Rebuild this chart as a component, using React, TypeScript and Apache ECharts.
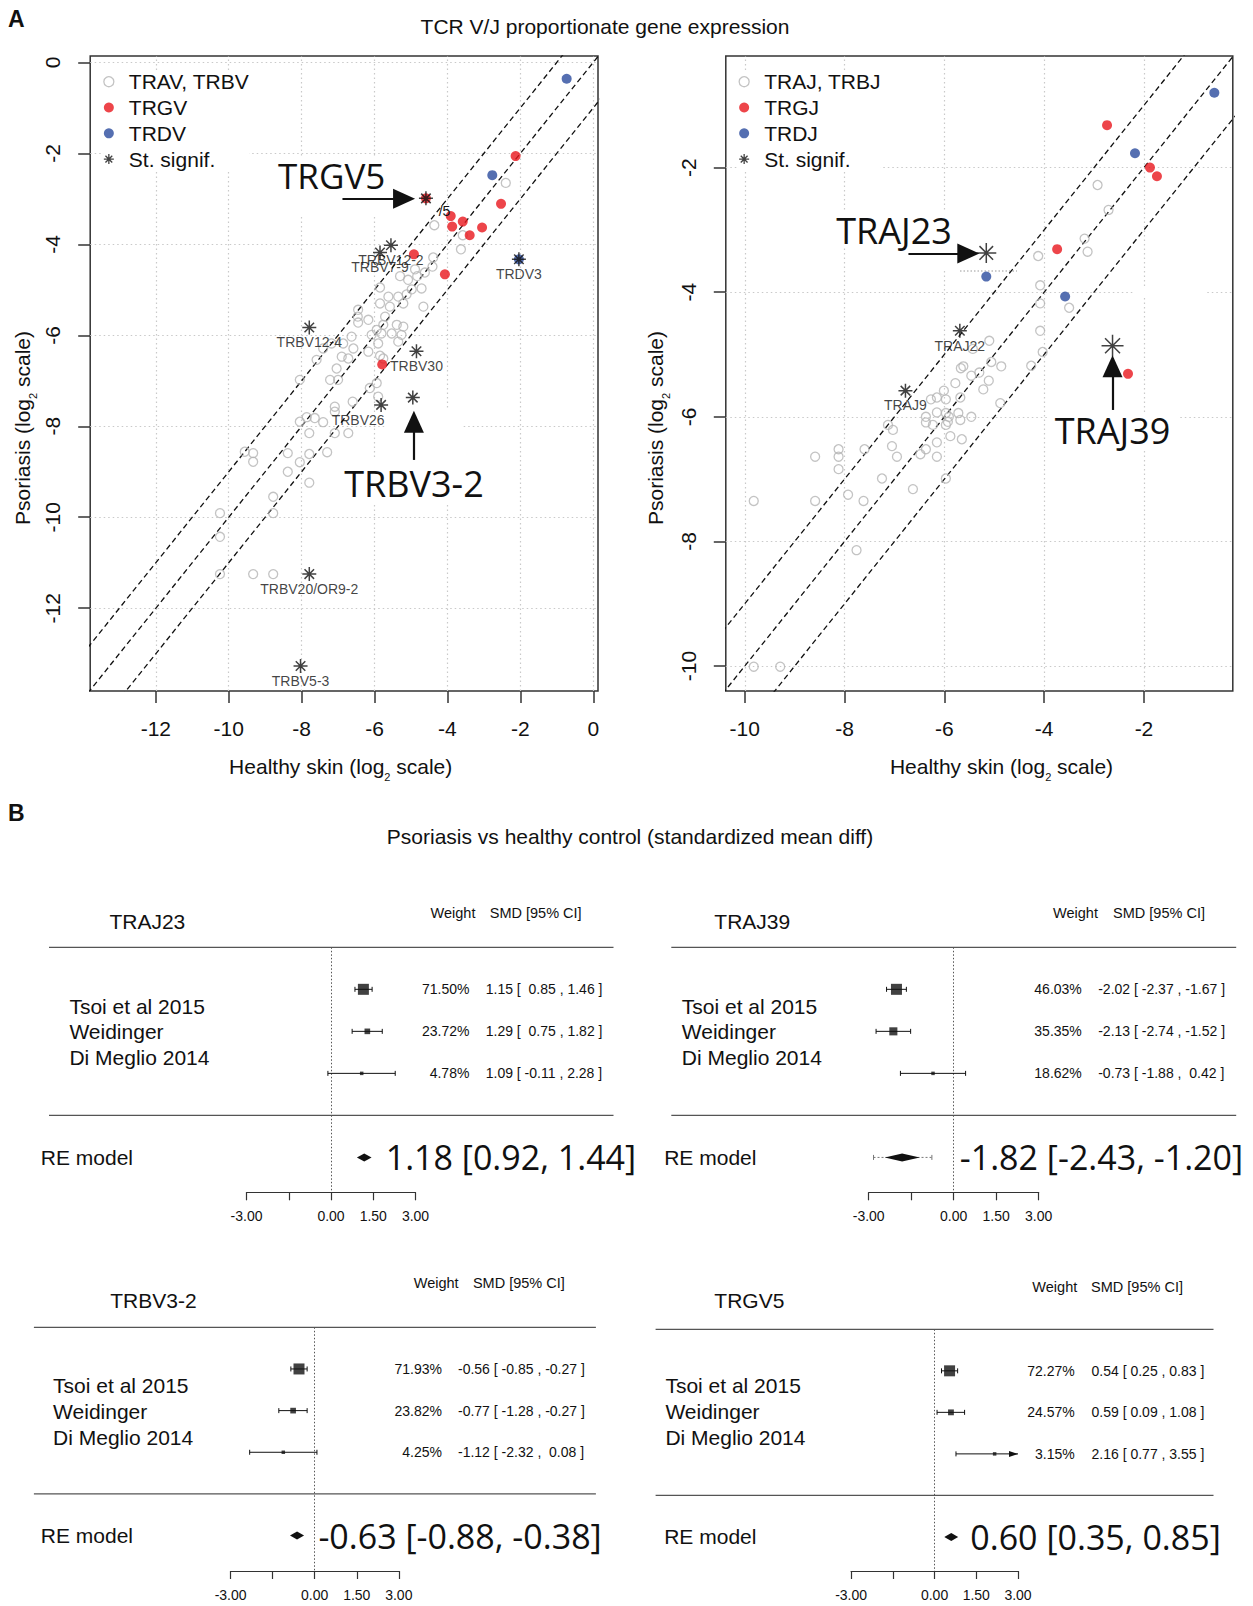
import React, { useEffect, useRef } from "react";
import * as echarts from "echarts";

// ---------------- Panel A data ----------------
const leftTicks = [-12, -10, -8, -6, -4, -2, 0];
const rightTicks = [-10, -8, -6, -4, -2];
const diagonalOffsets = [1, 0, -1];

const travTrbv = [
  [-2.4, -2.65], [-4.36, -3.58], [-3.58, -3.8], [-3.63, -4.11], [-4.39, -4.29], [-4.41, -4.49],
  [-4.62, -4.62], [-4.89, -4.55], [-5.3, -4.7], [-5.08, -4.78], [-4.83, -4.7], [-5.85, -4.95],
  [-4.71, -4.97], [-4.98, -4.99], [-5.62, -5.15], [-5.35, -5.15], [-5.12, -5.1],
  [-6.45, -5.44], [-6.46, -5.59], [-6.45, -5.72], [-5.85, -5.3], [-5.58, -5.37], [-5.21, -5.3], [-4.66, -5.37],
  [-6.17, -5.66], [-5.94, -5.88], [-5.76, -5.77], [-5.39, -5.77], [-5.21, -5.81], [-5.71, -5.59],
  [-6.08, -5.99], [-5.81, -5.96], [-5.53, -5.96], [-5.35, -6.14], [-5.9, -6.18], [-5.26, -5.99],
  [-6.17, -6.36], [-5.85, -6.45], [-5.76, -6.51],
  [-6.63, -6.03], [-6.86, -6.18], [-6.58, -6.29], [-7.41, -6.29], [-7.18, -6.18], [-6.72, -6.51],
  [-6.9, -6.47], [-7.59, -6.54], [-7.04, -6.73], [-7.22, -6.98], [-7.0, -6.98], [-8.05, -6.98],
  [-6.13, -7.16], [-5.94, -7.05], [-5.9, -7.35], [-6.6, -7.46], [-7.09, -7.57], [-7.09, -7.68],
  [-7.86, -7.8], [-7.64, -7.82], [-7.41, -7.91], [-8.05, -7.9], [-7.09, -8.15], [-6.72, -8.15],
  [-7.79, -8.15], [-9.56, -8.56], [-9.33, -8.59], [-9.33, -8.78], [-8.38, -8.59], [-7.79, -8.61],
  [-7.3, -8.57], [-8.05, -8.79], [-8.38, -9.0], [-7.79, -9.24], [-8.78, -9.55], [-8.78, -9.91],
  [-10.24, -9.91], [-10.24, -10.43], [-10.24, -11.25], [-9.33, -11.25], [-8.78, -11.25],
];
const trgv = [
  [-2.13, -2.06], [-2.53, -3.11], [-4.59, -2.99], [-3.91, -3.38], [-3.58, -3.5], [-3.87, -3.61],
  [-3.05, -3.63], [-3.39, -3.8], [-4.92, -4.22], [-4.07, -4.66], [-5.79, -6.64],
];
const trdv = [[-0.73, -0.36], [-2.77, -2.48], [-2.04, -4.33]];
const leftSignifNames = [
  "TRGV5", "TRBV12-2", "TRBV7-9", "TRDV3", "TRBV12-4", "TRBV30", "TRBV3-2", "TRBV26", "TRBV20/OR9-2", "TRBV5-3",
];
const leftSignif = [
  [-4.59, -2.99], [-5.55, -4.02], [-5.85, -4.18], [-2.04, -4.33], [-7.79, -5.83], [-4.85, -6.35],
  [-4.95, -7.37], [-5.82, -7.53], [-7.79, -11.25], [-8.03, -13.27],
];

const trajTrbj = [
  [-2.93, -2.28], [-2.71, -2.68], [-3.19, -3.14], [-3.13, -3.35], [-4.12, -3.42], [-4.08, -3.89],
  [-4.08, -4.18], [-3.5, -4.25], [-4.08, -4.62], [-5.1, -4.78], [-5.43, -4.91], [-4.03, -4.96],
  [-4.26, -5.18], [-5.06, -5.12], [-4.86, -5.19], [-5.62, -5.19], [-5.67, -5.22], [-5.3, -5.29],
  [-5.46, -5.34], [-5.11, -5.42], [-5.78, -5.46], [-5.22, -5.56], [-6.01, -5.58], [-5.68, -5.69],
  [-5.97, -5.72], [-6.15, -5.69], [-6.27, -5.72], [-4.88, -5.78], [-6.37, -6.0], [-6.37, -6.09],
  [-6.23, -6.13], [-6.15, -5.93], [-5.97, -5.94], [-5.91, -6.0], [-5.97, -6.13], [-5.72, -5.94],
  [-5.68, -6.05], [-5.46, -6.0], [-5.93, -6.08], [-7.13, -6.13], [-7.03, -6.21], [-5.88, -6.31],
  [-5.65, -6.36], [-7.05, -6.47], [-6.95, -6.64], [-6.37, -6.52], [-6.48, -6.6], [-6.15, -6.41],
  [-6.15, -6.64], [-7.6, -6.52], [-8.12, -6.52], [-8.12, -6.64], [-8.12, -6.84], [-8.59, -6.64],
  [-7.25, -6.99], [-5.97, -6.99], [-6.63, -7.16], [-7.93, -7.25], [-7.62, -7.35], [-8.59, -7.35],
  [-9.82, -7.35], [-7.76, -8.14], [-9.82, -10.01], [-9.29, -10.01],
];
const trgj = [[-2.74, -1.32], [-1.88, -2.0], [-1.74, -2.14], [-3.74, -3.31], [-2.32, -5.31]];
const trdj = [[-0.59, -0.8], [-2.18, -1.77], [-5.16, -3.75], [-3.58, -4.07]];
const rightSignifNames = ["TRAJ23", "TRAJ22", "TRAJ9", "TRAJ39"];
const rightSignif = [[-5.16, -3.37], [-5.69, -4.62], [-6.78, -5.58], [-2.63, -4.86]];

// ---------------- Panel B data ----------------
const studies = ["Tsoi et al 2015", "Weidinger", "Di Meglio 2014"];
const forestTicks = [-3, -1.5, 0, 1.5, 3];

const traj23Smd = [1.15, 1.29, 1.09];
const traj23Lower = [0.85, 0.75, -0.11];
const traj23Upper = [1.46, 1.82, 2.28];
const traj23Weight = [71.5, 23.72, 4.78];
const traj23Re = [1.18, 0.92, 1.44];

const traj39Smd = [-2.02, -2.13, -0.73];
const traj39Lower = [-2.37, -2.74, -1.88];
const traj39Upper = [-1.67, -1.52, 0.42];
const traj39Weight = [46.03, 35.35, 18.62];
const traj39Re = [-1.82, -2.43, -1.2];
const traj39Pred = [-2.83, -0.77];

const trbv32Smd = [-0.56, -0.77, -1.12];
const trbv32Lower = [-0.85, -1.28, -2.32];
const trbv32Upper = [-0.27, -0.27, 0.08];
const trbv32Weight = [71.93, 23.82, 4.25];
const trbv32Re = [-0.63, -0.88, -0.38];

const trgv5Smd = [0.54, 0.59, 2.16];
const trgv5Lower = [0.25, 0.09, 0.77];
const trgv5Upper = [0.83, 1.08, 3.55];
const trgv5Weight = [72.27, 24.57, 3.15];
const trgv5Re = [0.6, 0.35, 0.85];

// ---------------- styling / layout ----------------
const FONT = "Liberation Sans, Arial, Helvetica, sans-serif";
const DISPLAY = "Open Sans, Noto Sans, sans-serif";
const INK = "#111";
const GRAY = "#b4b4b4";
const RED = "#e8161d";
const BLUE = "#2b4b9e";
const STAR = "path://M5 0L5 10M0 5L10 5M1.6 1.6L8.4 8.4M1.6 8.4L8.4 1.6";

const starSize: Record<string, number> = { TRAJ23: 20, TRAJ39: 22 };
const starLabel: Record<string, any> = {
  TRGV5: { show: false },
  "TRBV3-2": { show: false },
  TRBV26: { offset: [-23, 0] },
  TRAJ23: { show: false },
  TRAJ39: { show: false },
};

const scatterPanels = [
  {
    box: { left: 90.2, top: 56, width: 507.8, height: 635 },
    xRange: [-13.8, 0.13],
    yRange: [-13.82, 0.14],
    ticks: leftTicks,
    groups: [
      { name: "TRAV, TRBV", data: travTrbv, kind: "open" },
      { name: "TRGV", data: trgv, kind: "red" },
      { name: "TRDV", data: trdv, kind: "blue" },
    ],
    sigNames: leftSignifNames,
    sig: leftSignif,
    legend: { left: 103.2, top: 71.2 },
    arrows: [
      { from: [-6.88, -3.0], to: [-5.19, -3.0] },
      { from: [-4.92, -8.74], to: [-4.92, -7.9] },
    ],
  },
  {
    box: { left: 725.8, top: 56, width: 507, height: 635 },
    xRange: [-10.38, -0.22],
    yRange: [-10.4, -0.21],
    ticks: rightTicks,
    groups: [
      { name: "TRAJ, TRBJ", data: trajTrbj, kind: "open" },
      { name: "TRGJ", data: trgj, kind: "red" },
      { name: "TRDJ", data: trdj, kind: "blue" },
    ],
    sigNames: rightSignifNames,
    sig: rightSignif,
    legend: { left: 738.5, top: 71.2 },
    arrows: [
      { from: [-6.72, -3.38], to: [-5.52, -3.38] },
      { from: [-2.63, -5.89], to: [-2.63, -5.19] },
    ],
  },
];

const forests = [
  {
    gene: "TRAJ23", smd: traj23Smd, lower: traj23Lower, upper: traj23Upper, weight: traj23Weight, re: traj23Re, pred: null,
    box: { left: 246.5, top: 947.3, width: 169, height: 245 }, yMax: 5.83,
    ruleX: [49, 613.5], geneX: 109.4, geneY: 921, headY: 913.3, weightHeadX: 453, smdHeadX: 535.7,
    nameX: 69.4, nameY: [1006, 1031.7, 1057.3], weightX: 469.4, smdX: 485.7, reLabelX: 40.8, reTextX: 385.7,
  },
  {
    gene: "TRAJ39", smd: traj39Smd, lower: traj39Lower, upper: traj39Upper, weight: traj39Weight, re: traj39Re, pred: traj39Pred,
    box: { left: 868.7, top: 947.3, width: 170, height: 245 }, yMax: 5.83,
    ruleX: [671.3, 1236.2], geneX: 714.3, geneY: 921, headY: 913.3, weightHeadX: 1075.5, smdHeadX: 1159,
    nameX: 681.8, nameY: [1006, 1031.7, 1057.3], weightX: 1081.8, smdX: 1098.2, reLabelX: 664.2, reTextX: 959.8,
  },
  {
    gene: "TRBV3-2", smd: trbv32Smd, lower: trbv32Lower, upper: trbv32Upper, weight: trbv32Weight, re: trbv32Re, pred: null,
    box: { left: 230.6, top: 1327.3, width: 168.2, height: 243.7 }, yMax: 5.85,
    ruleX: [33.9, 595.9], geneX: 110.2, geneY: 1300, headY: 1283.3, weightHeadX: 436.2, smdHeadX: 518.8,
    nameX: 53.1, nameY: [1385, 1411.7, 1437.3], weightX: 442, smdX: 458, reLabelX: 40.8, reTextX: 318.4,
  },
  {
    gene: "TRGV5", smd: trgv5Smd, lower: trgv5Lower, upper: trgv5Upper, weight: trgv5Weight, re: trgv5Re, pred: null,
    box: { left: 851.1, top: 1329.3, width: 166.9, height: 241.7 }, yMax: 5.82,
    ruleX: [655.6, 1213.5], geneX: 714.3, geneY: 1300, headY: 1286.7, weightHeadX: 1054.8, smdHeadX: 1137,
    nameX: 665.4, nameY: [1385, 1411.7, 1437.3], weightX: 1074.7, smdX: 1091.5, reLabelX: 664.2, reTextX: 970.3,
  },
];

const calloutTexts = [
  { text: "TRGV5", x: 331.7, y: 175.8, size: 35 },
  { text: "TRBV3-2", x: 414, y: 483.7, size: 36 },
  { text: "TRAJ23", x: 894, y: 230.5, size: 36 },
  { text: "TRAJ39", x: 1112.6, y: 430, size: 36 },
];
const maskRects = [
  [270, 156, 169, 61], [386, 410, 75, 50], [340, 460, 150, 44],
  [830, 211, 128, 36], [900, 240, 117, 31], [1135, 286, 70, 12], [1100, 350, 25, 60], [1048, 412, 130, 36],
];

const fmt = (v: number) => v.toFixed(2);
const NB = "\u00a0";
function padColumn(vals: number[]) {
  const s = vals.map(fmt);
  const w = Math.max(...s.map((t) => t.length));
  return s.map((t) => NB.repeat(w - t.length) + t);
}

function txt(text: string, x: number, y: number, size: number, extra: any = {}) {
  return {
    type: "text",
    x,
    y,
    z: 10,
    silent: true,
    style: {
      text,
      fill: INK,
      fontSize: size,
      fontFamily: FONT,
      align: "left",
      verticalAlign: "middle",
      ...extra,
    },
  };
}

function axisTitle(text: string, x: number, y: number, rotation: number) {
  return {
    type: "text",
    x,
    y,
    rotation,
    z: 10,
    silent: true,
    style: {
      text,
      fill: INK,
      fontSize: 21,
      fontFamily: FONT,
      lineHeight: 32,
      align: "center",
      verticalAlign: "middle",
      rich: {
        sub: { fontSize: 11, lineHeight: 11, fontFamily: FONT, fill: INK, verticalAlign: "bottom" },
      },
    },
  };
}

function buildOption() {
  const grid: any[] = [];
  const xAxis: any[] = [];
  const yAxis: any[] = [];
  const series: any[] = [];
  const legend: any[] = [];
  const graphic: any[] = [];

  scatterPanels.forEach((p, i) => {
    grid.push({ ...p.box, show: true, borderColor: "#333", borderWidth: 1.5, backgroundColor: "transparent" });
    const tickCommon = { show: true, length: 12, lineStyle: { color: "#333", width: 1.5 } };
    const labelCommon = { fontSize: 21, color: INK, fontFamily: FONT, formatter: (v: number) => String(v) };
    xAxis.push({
      gridIndex: i, type: "value", min: p.xRange[0], max: p.xRange[1],
      splitLine: { show: false }, axisLine: { show: false, onZero: false },
      axisTick: { ...tickCommon, customValues: p.ticks },
      axisLabel: { ...labelCommon, customValues: p.ticks, margin: 27 },
    });
    yAxis.push({
      gridIndex: i, type: "value", min: p.yRange[0], max: p.yRange[1],
      splitLine: { show: false }, axisLine: { show: false, onZero: false },
      axisTick: { ...tickCommon, customValues: p.ticks },
      axisLabel: { ...labelCommon, customValues: p.ticks, rotate: 90, margin: 27 },
    });

    // diagonal reference lines y = x + c
    diagonalOffsets.forEach((c) => {
      const x0 = p.xRange[0] - 3;
      const x1 = p.xRange[1] + 3;
      series.push({
        type: "line", xAxisIndex: i, yAxisIndex: i, silent: true, clip: true, z: 2,
        symbol: "none", showSymbol: false,
        data: [[x0, x0 + c], [x1, x1 + c]],
        lineStyle: { color: INK, width: 1.3, type: [5.5, 3.5] },
      });
    });

    p.groups.forEach((g) => {
      const open = g.kind === "open";
      series.push({
        type: "scatter", name: g.name, xAxisIndex: i, yAxisIndex: i, silent: true, z: 2,
        data: g.data, symbol: "circle", symbolSize: open ? 9 : 10,
        itemStyle: open
          ? { color: "rgba(255,255,255,0)", borderColor: GRAY, borderWidth: 1.3 }
          : { color: g.kind === "red" ? RED : BLUE },
        markLine: open
          ? {
              silent: true, symbol: "none", z: 1, label: { show: false },
              lineStyle: { color: "#c9c9c9", type: [1.5, 3], width: 1.2 },
              data: [...p.ticks.map((v) => ({ xAxis: v })), ...p.ticks.map((v) => ({ yAxis: v }))],
            }
          : undefined,
      });
    });

    series.push({
      type: "scatter", name: "St. signif.", xAxisIndex: i, yAxisIndex: i, silent: true, z: 3,
      symbol: STAR, symbolSize: 14,
      itemStyle: { color: "rgba(0,0,0,0)", borderColor: INK, borderWidth: 1.5 },
      label: { show: true, position: "bottom", distance: 0, formatter: "{b}", fontSize: 14, fontFamily: FONT, color: INK },
      data: p.sigNames.map((n, k) => ({
        name: n,
        value: p.sig[k],
        symbolSize: starSize[n] || 14,
        label: starLabel[n] || {},
      })),
      markLine: {
        silent: true, z: 6, label: { show: false },
        lineStyle: { color: INK, width: 2.2, type: "solid" },
        data: p.arrows.map((a) => [
          { coord: a.from, symbol: "none" },
          { coord: a.to, symbol: "triangle", symbolSize: [20, 22] },
        ]),
      },
    });

    legend.push({
      orient: "vertical", left: p.legend.left, top: p.legend.top, padding: 0,
      itemGap: 4.8, itemWidth: 30, itemHeight: 10, selectedMode: false,
      backgroundColor: "#fff",
      data: [...p.groups.map((g) => g.name), "St. signif."],
      itemStyle: { borderWidth: 1.3 },
      textStyle: { fontSize: 21, fontFamily: FONT, color: INK, lineHeight: 21 },
    });
  });

  forests.forEach((f, j) => {
    const gi = j + 2;
    grid.push({ ...f.box, show: false });
    xAxis.push({
      gridIndex: gi, type: "value", min: forestTicks[0], max: forestTicks[forestTicks.length - 1], interval: 1.5,
      position: "bottom",
      splitLine: { show: false },
      axisLine: { show: true, onZero: false, lineStyle: { color: "#333", width: 1.2 } },
      axisTick: { show: true, length: 8, lineStyle: { color: "#333", width: 1.2 } },
      axisLabel: {
        fontSize: 14, color: INK, fontFamily: FONT, margin: 17,
        formatter: (v: number) => (v === -1.5 ? "" : fmt(v)),
      },
    });
    yAxis.push({ gridIndex: gi, type: "value", min: 0, max: f.yMax, inverse: true, show: false });

    const rows = studies.map((_, k) => k + 1);
    const reRow = 5;
    const xmax = forestTicks[forestTicks.length - 1];
    const wMin = Math.min(...f.weight);
    const wMax = Math.max(...f.weight);

    // CI whiskers
    series.push({
      type: "custom", xAxisIndex: gi, yAxisIndex: gi, silent: true, clip: false, z: 3,
      data: rows.map((r, k) => [f.lower[k], f.upper[k], r]),
      renderItem: (params: any, api: any) => {
        const lo = api.value(0), hi = api.value(1), row = api.value(2);
        const p0 = api.coord([lo, row]);
        const p1 = api.coord([Math.min(hi, xmax), row]);
        const st = { stroke: INK, lineWidth: 1 };
        const ch: any[] = [
          { type: "line", shape: { x1: p0[0], y1: p0[1], x2: p1[0], y2: p1[1] }, style: st },
          { type: "line", shape: { x1: p0[0], y1: p0[1] - 2.5, x2: p0[0], y2: p0[1] + 2.5 }, style: st },
        ];
        if (hi > xmax) {
          ch.push({ type: "polygon", shape: { points: [[p1[0], p1[1]], [p1[0] - 9, p1[1] - 3], [p1[0] - 9, p1[1] + 3]] }, style: { fill: INK } });
        } else {
          ch.push({ type: "line", shape: { x1: p1[0], y1: p1[1] - 2.5, x2: p1[0], y2: p1[1] + 2.5 }, style: st });
        }
        return { type: "group", children: ch };
      },
    });

    // study squares + zero reference line
    series.push({
      type: "scatter", xAxisIndex: gi, yAxisIndex: gi, silent: true, z: 4,
      symbol: "rect",
      data: rows.map((r, k) => ({
        value: [f.smd[k], r],
        symbolSize: 3.5 + (7.5 * (f.weight[k] - wMin)) / (wMax - wMin),
      })),
      itemStyle: { color: INK },
      markLine: {
        silent: true, symbol: "none", z: 1, label: { show: false },
        lineStyle: { color: "#555", type: [1.5, 2], width: 1 },
        data: [{ xAxis: 0 }],
      },
    });

    // prediction interval (dotted)
    if (f.pred) {
      series.push({
        type: "custom", xAxisIndex: gi, yAxisIndex: gi, silent: true, clip: false, z: 3,
        data: [[f.pred[0], f.pred[1], reRow]],
        renderItem: (params: any, api: any) => {
          const a = api.coord([api.value(0), api.value(2)]);
          const b = api.coord([api.value(1), api.value(2)]);
          const st = { stroke: "#777", lineWidth: 1, lineDash: [2, 2] };
          return {
            type: "group",
            children: [
              { type: "line", shape: { x1: a[0], y1: a[1], x2: b[0], y2: b[1] }, style: st },
              { type: "line", shape: { x1: a[0], y1: a[1] - 2.5, x2: a[0], y2: a[1] + 2.5 }, style: { stroke: "#777", lineWidth: 1 } },
              { type: "line", shape: { x1: b[0], y1: b[1] - 2.5, x2: b[0], y2: b[1] + 2.5 }, style: { stroke: "#777", lineWidth: 1 } },
            ],
          };
        },
      });
    }

    // RE diamond
    series.push({
      type: "custom", xAxisIndex: gi, yAxisIndex: gi, silent: true, clip: false, z: 4,
      data: [[f.re[1], f.re[2], f.re[0], reRow]],
      renderItem: (params: any, api: any) => {
        const row = api.value(3);
        const a = api.coord([api.value(0), row]);
        const c = api.coord([api.value(1), row]);
        const b = api.coord([api.value(2), row]);
        return {
          type: "polygon",
          shape: { points: [[a[0], a[1]], [b[0], b[1] - 4], [c[0], c[1]], [b[0], b[1] + 4]] },
          style: { fill: INK },
        };
      },
    });

    // texts & rules
    const rowPx = (r: number) => f.box.top + (r * f.box.height) / f.yMax;
    [0, 4].forEach((r) => {
      graphic.push({
        type: "line", z: 5, silent: true,
        shape: { x1: f.ruleX[0], y1: rowPx(r), x2: f.ruleX[1], y2: rowPx(r) },
        style: { stroke: "#555", lineWidth: 1.3 },
      });
    });
    graphic.push(txt(f.gene, f.geneX, f.geneY, 21));
    graphic.push(txt("Weight", f.weightHeadX, f.headY, 14.5, { align: "center" }));
    graphic.push(txt("SMD [95% CI]", f.smdHeadX, f.headY, 14.5, { align: "center" }));
    studies.forEach((s, k) => graphic.push(txt(s, f.nameX, f.nameY[k], 21)));
    const lo = padColumn(f.lower);
    const hi = padColumn(f.upper);
    const est = padColumn(f.smd);
    rows.forEach((r, k) => {
      graphic.push(txt(fmt(f.weight[k]) + "%", f.weightX, rowPx(r), 14, { align: "right" }));
      graphic.push(txt(`${est[k]} [ ${lo[k]} , ${hi[k]} ]`, f.smdX, rowPx(r), 14));
    });
    graphic.push(txt("RE model", f.reLabelX, rowPx(reRow), 21));
    graphic.push(txt(`${fmt(f.re[0])} [${fmt(f.re[1])}, ${fmt(f.re[2])}]`, f.reTextX, rowPx(reRow), 34, { fontFamily: DISPLAY }));
  });

  // Panel A decorations
  maskRects.forEach((r) => {
    graphic.push({ type: "rect", z: 1.5, silent: true, shape: { x: r[0], y: r[1], width: r[2], height: r[3] }, style: { fill: "#fff" } });
  });
  calloutTexts.forEach((c) => {
    graphic.push(txt(c.text, c.x, c.y, c.size, { align: "center", fontFamily: DISPLAY }));
  });
  graphic.push(txt("/5", 444.5, 211, 14, { align: "center" }));
  graphic.push({
    type: "line", z: 1.6, silent: true,
    shape: { x1: 960, y1: 271, x2: 1017, y2: 271 },
    style: { stroke: "#999", lineWidth: 1, lineDash: [1.5, 2] },
  });

  graphic.push(txt("A", 8, 18.5, 23, { fontWeight: "bold" }));
  graphic.push(txt("TCR V/J proportionate gene expression", 605, 26.5, 21, { align: "center" }));
  graphic.push(axisTitle("Healthy skin (log{sub|2} scale)", 340.7, 766, 0));
  graphic.push(axisTitle("Healthy skin (log{sub|2} scale)", 1001.5, 766, 0));
  graphic.push(axisTitle("Psoriasis (log{sub|2} scale)", 22, 428, Math.PI / 2));
  graphic.push(axisTitle("Psoriasis (log{sub|2} scale)", 655, 428, Math.PI / 2));

  graphic.push(txt("B", 8, 812.5, 23, { fontWeight: "bold" }));
  graphic.push(txt("Psoriasis vs healthy control (standardized mean diff)", 630, 836, 21, { align: "center" }));

  return {
    animation: false,
    backgroundColor: "#fff",
    textStyle: { fontFamily: FONT },
    grid,
    xAxis,
    yAxis,
    legend,
    series,
    graphic: { elements: graphic },
  };
}

export default function App() {
  const ref = useRef<HTMLDivElement>(null);
  useEffect(() => {
    if (!ref.current) return;
    const chart = echarts.init(ref.current, null, { renderer: "svg" });
    chart.setOption(buildOption() as any);
    return () => chart.dispose();
  }, []);
  return (
    <div
      ref={ref}
      style={{ position: "absolute", left: 0, top: 0, width: 1253, height: 1606, background: "#fff" }}
    />
  );
}
